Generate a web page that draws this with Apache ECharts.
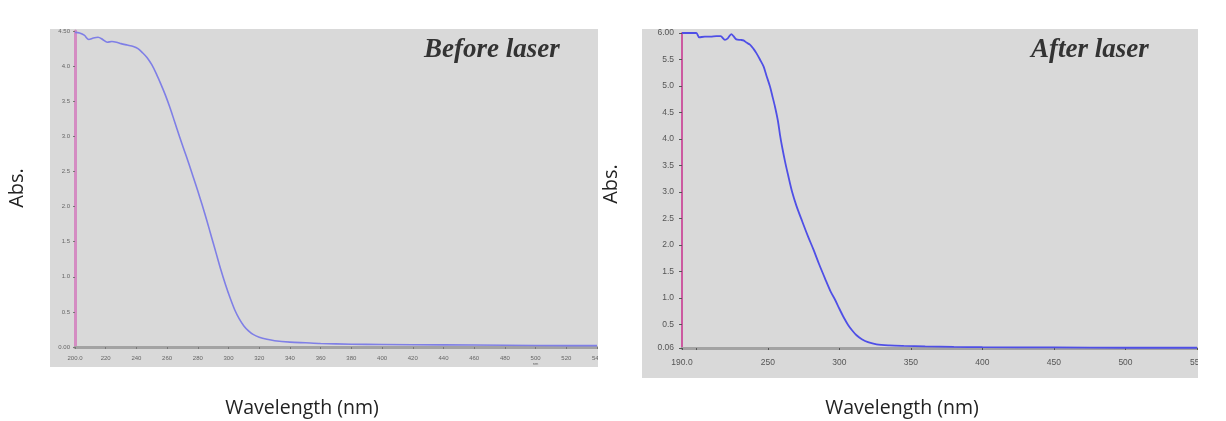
<!DOCTYPE html>
<html>
<head>
<meta charset="utf-8">
<script src="https://cdn.jsdelivr.net/npm/echarts@6/dist/echarts.min.js"></script>
<style>
  html, body { margin: 0; padding: 0; background: #ffffff; }
  #chart { width: 1226px; height: 421px; }
</style>
</head>
<body>
<div id="chart"></div>
<script>
// UV-Vis absorbance spectra, before and after laser treatment
const beforeWavelength = [200, 203, 206, 209, 212, 215, 218, 221, 224, 227, 230, 234, 238, 241, 244, 247, 250, 253, 256, 259, 262, 265, 268, 271, 274, 277, 280, 283, 286, 289, 292, 295, 298, 301, 304, 307, 310, 313, 316, 320, 325, 330, 340, 350, 360, 380, 400, 440, 480, 520, 540];
const beforeAbs = [4.48, 4.47, 4.44, 4.38, 4.40, 4.41, 4.38, 4.34, 4.35, 4.34, 4.32, 4.30, 4.28, 4.25, 4.19, 4.12, 4.02, 3.89, 3.74, 3.58, 3.40, 3.20, 3.00, 2.81, 2.62, 2.42, 2.22, 2.01, 1.79, 1.56, 1.33, 1.10, 0.89, 0.70, 0.53, 0.40, 0.30, 0.23, 0.18, 0.14, 0.11, 0.09, 0.07, 0.06, 0.05, 0.04, 0.035, 0.03, 0.025, 0.02, 0.02];

const afterWavelength = [190, 195, 200, 202, 206, 210, 214, 217, 220, 222, 224.5, 226, 228, 231, 233, 235, 237.5, 240, 242, 244.5, 247, 249, 251.5, 253, 255, 257, 258.5, 260, 262, 264, 267, 270, 274, 278, 282, 286, 290, 294, 297, 300, 303, 306, 309, 312, 316, 320, 326, 335, 345, 360, 380, 400, 450, 500, 550];
const afterAbs = [6.00, 6.00, 6.00, 5.92, 5.93, 5.93, 5.94, 5.94, 5.87, 5.90, 5.98, 5.94, 5.88, 5.87, 5.86, 5.82, 5.78, 5.70, 5.62, 5.50, 5.37, 5.20, 4.99, 4.83, 4.61, 4.35, 4.08, 3.85, 3.58, 3.34, 3.00, 2.74, 2.45, 2.17, 1.91, 1.63, 1.37, 1.12, 0.97, 0.80, 0.64, 0.50, 0.39, 0.30, 0.22, 0.17, 0.13, 0.11, 0.10, 0.09, 0.08, 0.075, 0.07, 0.065, 0.065];

// tick values
const afterXTickMarks = [190, 200, 250, 300, 350, 400, 450, 500, 550];
const afterXLabels = [190, 250, 300, 350, 400, 450, 500, 550];
const afterYLabels = [0.06, 0.5, 1.0, 1.5, 2.0, 2.5, 3.0, 3.5, 4.0, 4.5, 5.0, 5.5, 6.0];

const titles = ['Before laser', 'After laser'];
const yName = 'Abs.';
const xName = 'Wavelength (nm)';

const zip = (xs, ys) => xs.map((x, i) => [x, ys[i]]);

const chart = echarts.init(document.getElementById('chart'), null, { renderer: 'canvas' });

const smallLabelLeft = { fontFamily: 'Liberation Sans', fontSize: 6, color: '#666' };
const smallLabelRight = { fontFamily: 'Liberation Sans', fontSize: 8.5, color: '#555' };
const titleFont = 'italic bold 27px "Liberation Serif"';
const axisTitleFont = '19.5px "Open Sans"';

chart.setOption({
  animation: false,
  backgroundColor: '#ffffff',
  graphic: [
    // instrument plot panels
    { type: 'rect', shape: { x: 50, y: 29, width: 548, height: 338 }, style: { fill: '#d9d9d9' }, z: -10 },
    { type: 'rect', shape: { x: 642, y: 28, width: 556, height: 350 }, style: { fill: '#d9d9d9' }, z: -10 },
    // crop edges of the panels
    { type: 'rect', shape: { x: 0, y: 0, width: 1226, height: 29 }, style: { fill: '#ffffff' }, z: 100 },
    { type: 'rect', shape: { x: 598, y: 0, width: 44, height: 390 }, style: { fill: '#ffffff' }, z: 100 },
    { type: 'rect', shape: { x: 1198, y: 0, width: 28, height: 390 }, style: { fill: '#ffffff' }, z: 100 },
    // panel titles
    { type: 'text', left: 424, top: 37, z: 110, style: { text: titles[0], font: titleFont, fill: '#333' } },
    { type: 'text', left: 1031, top: 37, z: 110, style: { text: titles[1], font: titleFont, fill: '#333' } },
    // axis titles
    { type: 'text', x: 17, y: 188, rotation: Math.PI / 2, z: 110, style: { text: yName, font: '20px "Open Sans"', fill: '#222', align: 'center', verticalAlign: 'middle' } },
    { type: 'text', x: 611, y: 184, rotation: Math.PI / 2, z: 110, style: { text: yName, font: '20px "Open Sans"', fill: '#222', align: 'center', verticalAlign: 'middle' } },
    { type: 'text', x: 302, y: 408, z: 110, style: { text: xName, font: axisTitleFont, fill: '#222', align: 'center', verticalAlign: 'middle' } },
    { type: 'text', x: 902, y: 408, z: 110, style: { text: xName, font: axisTitleFont, fill: '#222', align: 'center', verticalAlign: 'middle' } }
  ],
  grid: [
    { left: 75, top: 31, width: 522, height: 316 },
    { left: 682, top: 33, width: 515, height: 315 }
  ],
  xAxis: [
    {
      gridIndex: 0, type: 'value', min: 200, max: 540, interval: 20,
      axisLine: { show: true, lineStyle: { color: '#a3a3a3', width: 3 } },
      axisTick: { show: true, length: 2, lineStyle: { color: '#777' } },
      splitLine: { show: false },
      axisLabel: Object.assign({}, smallLabelLeft, {
        margin: 8, showMaxLabel: true,
        formatter: v => v === 200 ? '200.0' : (v === 500 ? '500\n{u|nm}' : String(v)),
        rich: { u: { fontSize: 4, color: '#666', lineHeight: 5 } }
      })
    },
    {
      gridIndex: 1, type: 'value', min: 190, max: 550,
      axisLine: { show: true, lineStyle: { color: '#a3a3a3', width: 3 } },
      axisTick: { show: true, length: 2, customValues: afterXTickMarks, lineStyle: { color: '#555' } },
      splitLine: { show: false },
      axisLabel: Object.assign({}, smallLabelRight, {
        margin: 10, customValues: afterXLabels,
        formatter: v => v === 190 ? '190.0' : String(v)
      })
    }
  ],
  yAxis: [
    {
      gridIndex: 0, type: 'value', min: 0, max: 4.5, interval: 0.5,
      axisLine: { show: true, lineStyle: { color: '#d48cc2', width: 3 } },
      axisTick: { show: true, length: 2, lineStyle: { color: '#777' } },
      splitLine: { show: false },
      axisLabel: Object.assign({}, smallLabelLeft, {
        margin: 5,
        formatter: v => v === 0 ? '0.00' : (v === 4.5 ? '4.50' : v.toFixed(1))
      })
    },
    {
      gridIndex: 1, type: 'value', min: 0.06, max: 6,
      axisLine: { show: true, lineStyle: { color: '#cc5aa0', width: 2 } },
      axisTick: { show: true, length: 3, customValues: afterYLabels, lineStyle: { color: '#555' } },
      splitLine: { show: false },
      axisLabel: Object.assign({}, smallLabelRight, {
        margin: 8, customValues: afterYLabels,
        formatter: v => v === 0.06 ? '0.06' : (v === 6 ? '6.00' : v.toFixed(1))
      })
    }
  ],
  series: [
    {
      type: 'line', xAxisIndex: 0, yAxisIndex: 0, showSymbol: false, smooth: 0.3,
      data: zip(beforeWavelength, beforeAbs),
      lineStyle: { color: '#7f7fe6', width: 1.6 }, z: 5
    },
    {
      type: 'line', xAxisIndex: 1, yAxisIndex: 1, showSymbol: false, smooth: 0.3,
      data: zip(afterWavelength, afterAbs),
      lineStyle: { color: '#4f4fe6', width: 1.8 }, z: 5
    }
  ]
});
</script>
</body>
</html>
